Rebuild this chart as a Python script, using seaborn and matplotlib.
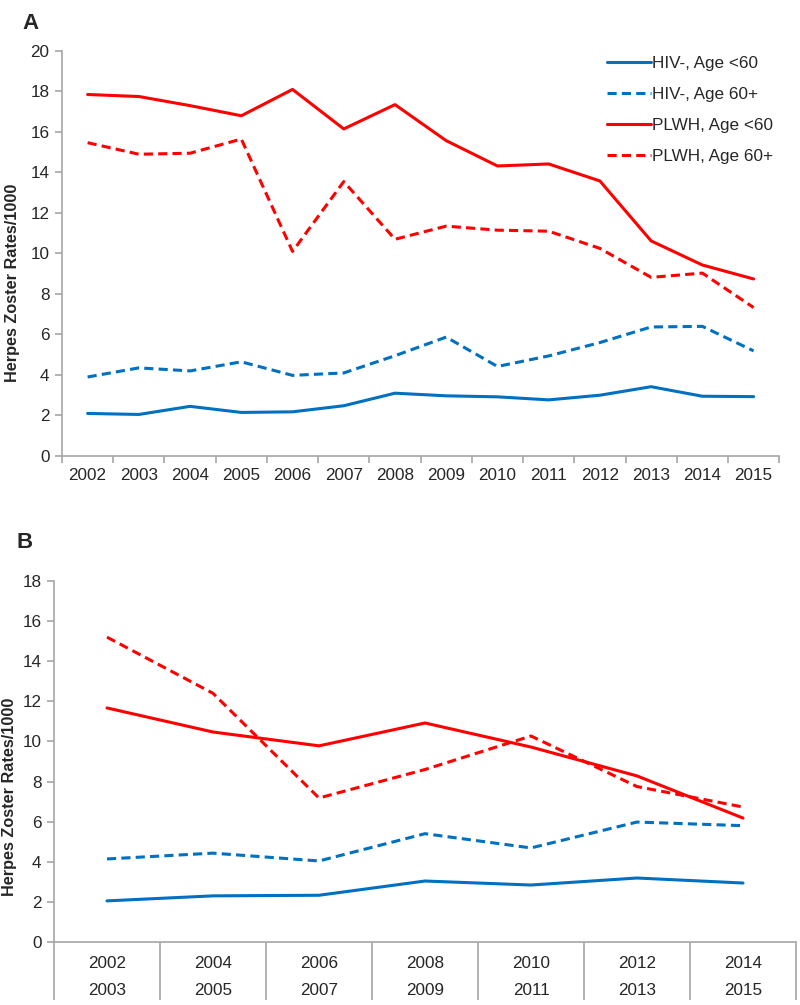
import numpy as np
import pandas as pd
import seaborn as sns
import matplotlib.pyplot as plt
from matplotlib.ticker import FixedLocator, NullFormatter

# Panel A: yearly rates
years_a = ["2002", "2003", "2004", "2005", "2006", "2007", "2008",
           "2009", "2010", "2011", "2012", "2013", "2014", "2015"]
hiv_neg_lt60_a = [2.10, 2.05, 2.45, 2.15, 2.18, 2.48, 3.10, 2.97, 2.92, 2.77, 3.00, 3.42, 2.95, 2.93]
hiv_neg_60p_a = [3.90, 4.35, 4.20, 4.65, 3.98, 4.10, 4.95, 5.87, 4.42, 4.94, 5.60, 6.37, 6.40, 5.19]
plwh_lt60_a = [17.85, 17.75, 17.30, 16.80, 18.10, 16.15, 17.35, 15.57, 14.32, 14.42, 13.58, 10.62, 9.43, 8.74]
plwh_60p_a = [15.47, 14.90, 14.95, 15.65, 10.10, 13.55, 10.70, 11.35, 11.15, 11.10, 10.25, 8.82, 9.03, 7.33]

# Panel B: two-year periods
periods_b = ["2002\n2003", "2004\n2005", "2006\n2007", "2008\n2009",
             "2010\n2011", "2012\n2013", "2014\n2015"]
hiv_neg_lt60_b = [2.05, 2.30, 2.33, 3.04, 2.84, 3.19, 2.94]
hiv_neg_60p_b = [4.14, 4.43, 4.04, 5.40, 4.69, 5.98, 5.80]
plwh_lt60_b = [11.67, 10.47, 9.78, 10.92, 9.72, 8.28, 6.18]
plwh_60p_b = [15.20, 12.40, 7.18, 8.60, 10.27, 7.75, 6.73]

series_names = ["HIV-, Age <60", "HIV-, Age 60+", "PLWH, Age <60", "PLWH, Age 60+"]
BLUE = "#0070C0"
RED = "#FF0000"
GRAY = "#A6A6A6"
TICK_SIZE = 12.3


def long_frame(xs, series):
    rows = []
    for name, vals in zip(series_names, series):
        for x, v in zip(xs, vals):
            rows.append({"x": x, "rate": v, "group": name})
    return pd.DataFrame(rows)


def draw_lines(ax, df, legend):
    sns.lineplot(
        data=df, x="x", y="rate", hue="group", style="group",
        hue_order=series_names, style_order=series_names,
        palette=[BLUE, BLUE, RED, RED],
        dashes=["", (3, 1.7), "", (3, 1.7)],
        linewidth=2.2, sort=False, legend=legend, ax=ax,
    )


def style_axes(ax, n, ymax, label_xy):
    for side in ["top", "right"]:
        ax.spines[side].set_visible(False)
    for side in ["left", "bottom"]:
        ax.spines[side].set_color(GRAY)
        ax.spines[side].set_linewidth(1.2)
    ax.set_xlim(-0.5, n - 0.5)
    ax.set_ylim(0, ymax)
    ax.set_yticks(np.arange(0, ymax + 1, 2))
    ax.set_xlabel("")
    ax.set_ylabel("Herpes Zoster Rates/1000", fontsize=11.7, fontweight="bold")
    ax.yaxis.set_label_coords(*label_xy)
    ax.tick_params(axis="y", left=True, length=5, width=1.2, color=GRAY,
                   labelsize=TICK_SIZE, pad=4)
    ax.tick_params(axis="x", which="both", bottom=True)
    ax.tick_params(axis="x", which="major", length=0, labelsize=TICK_SIZE)
    ax.xaxis.set_minor_locator(FixedLocator(np.arange(-0.5, n, 1.0)))
    ax.xaxis.set_minor_formatter(NullFormatter())


sns.set_style("white")
plt.rcParams["font.family"] = ["Liberation Sans", "DejaVu Sans"]

fig = plt.figure(figsize=(8, 10.05), dpi=100)
ax_a = fig.add_axes([0.0775, 0.5463, 0.8965, 0.4030])
ax_b = fig.add_axes([0.0675, 0.0627, 0.9275, 0.3592])

# Panel A
draw_lines(ax_a, long_frame(years_a, [hiv_neg_lt60_a, hiv_neg_60p_a, plwh_lt60_a, plwh_60p_a]), True)
style_axes(ax_a, len(years_a), 20, (-0.0586, 0.428))
ax_a.tick_params(axis="x", which="minor", length=5, color=GRAY, width=1.2)
ax_a.tick_params(axis="x", which="major", pad=9)
leg = ax_a.legend(loc="center left", bbox_to_anchor=(0.759, 0.8905),
                  bbox_transform=fig.transFigure, frameon=False,
                  fontsize=TICK_SIZE, handlelength=2.55, handletextpad=0.05,
                  labelspacing=0.93, borderpad=0, borderaxespad=0)
for line in leg.get_lines():
    line.set_linewidth(2.2)

# Panel B
draw_lines(ax_b, long_frame(periods_b, [hiv_neg_lt60_b, hiv_neg_60p_b, plwh_lt60_b, plwh_60p_b]), False)
style_axes(ax_b, len(periods_b), 18, (-0.050, 0.403))
ax_b.tick_params(axis="x", which="minor", length=42, color=GRAY, width=1.2)
ax_b.tick_params(axis="x", which="major", pad=10)
for lbl in ax_b.get_xticklabels():
    lbl.set_linespacing(2.05)

fig.text(0.0275, 0.971, "A", fontsize=16, fontweight="bold")
fig.text(0.020, 0.4547, "B", fontsize=16, fontweight="bold")

fig.savefig("out.png", dpi=100)
